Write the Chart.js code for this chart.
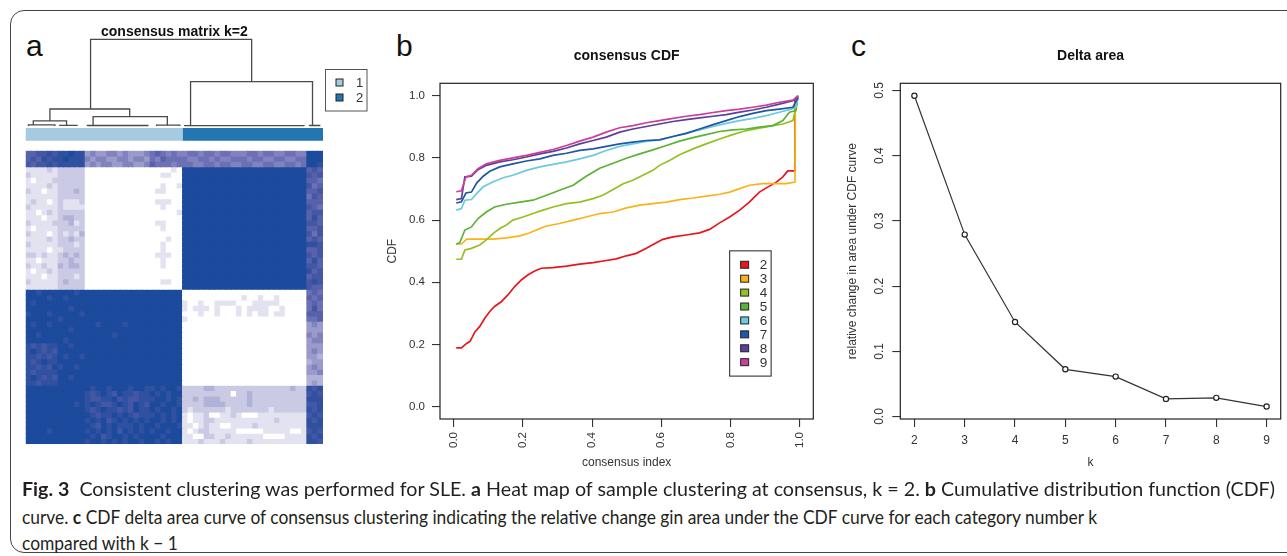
<!DOCTYPE html>
<html>
<head>
<meta charset="utf-8">
<script src="https://cdn.jsdelivr.net/npm/chart.js@4.4.1/dist/chart.umd.min.js"></script>
<style>
html, body { margin: 0; padding: 0; background: #fff; width: 1287px; height: 556px; overflow: hidden; position: relative; }
.frame { position: absolute; left: 10px; top: 10px; width: 1320px; height: 543px; border: 1.3px solid #444; border-radius: 14px; box-sizing: border-box; }
canvas { position: absolute; }
.tag { position: absolute; font-family: "Liberation Sans", Arial, sans-serif; font-size: 30px; line-height: 30px; color: #111; }
.cap { position: absolute; left: 22px; font-family: Lato, "Open Sans", "Liberation Sans", sans-serif; font-size: 19px; line-height: 22px; color: #231f20; white-space: nowrap; transform-origin: 0 50%; }
.cap b { font-weight: 700; }
</style>
</head>
<body>
<div class="frame"></div>

<div class="tag" style="left:26px;top:31px">a</div>
<div class="tag" style="left:396px;top:31px">b</div>
<div class="tag" style="left:851px;top:31px">c</div>

<canvas id="dendro" width="380" height="135" style="left:0;top:10px"></canvas>
<canvas id="heat" width="340" height="305" style="left:0;top:145px"></canvas>
<canvas id="cdf" width="440" height="440" style="left:380px;top:40px"></canvas>
<canvas id="delta" width="467" height="440" style="left:820px;top:40px"></canvas>

<div class="cap" id="cap1" style="top:478px"><b>Fig. 3</b>&nbsp; Consistent clustering was performed for SLE. <b>a</b> Heat map of sample clustering at consensus, k = 2. <b>b</b> Cumulative distribution function (CDF)</div>
<div class="cap" id="cap2" style="top:506px">curve. <b>c</b> CDF delta area curve of consensus clustering indicating the relative change gin area under the CDF curve for each category number k</div>
<div class="cap" id="cap3" style="top:532px">compared with k − 1</div>

<script>
// ---------- panel a: consensus matrix (rows as drawn, top to bottom; 0 = white .. a = darkest) ----------
const heatRows = [
  "778898 99a99 454455454445 676565 56656656655566566556655 aaa",
  "787989 9a999 545544554554 657666 65566565566656655665566 aaa",
  "878898 99999 454554455445 766656 66556656655665566556656 aa9",
  "111121 22222 000000000000 000010 aaaaaaaaaaaaaaaaaaaaaaa 787",
  "211111 22222 000000000000 001100 aaaaaaaaaaaaaaaaaaaaaaa 878",
  "101112 22222 000000000000 000000 aaaaaaaaaaaaaaaaaaaaaaa 776",
  "111121 22222 000000000000 001001 aaaaaaaaaaaaaaaaaaaaaaa 867",
  "211011 22232 000000000000 011000 aaaaaaaaaaaaaaaaaaaaaaa 778",
  "111111 22222 000000000000 000000 aaaaaaaaaaaaaaaaaaaaaaa 687",
  "121101 21112 000000000000 011100 aaaaaaaaaaaaaaaaaaaaaaa 777",
  "211111 21111 000000000000 001000 aaaaaaaaaaaaaaaaaaaaaaa 876",
  "110121 22222 000000000000 000001 aaaaaaaaaaaaaaaaaaaaaaa 788",
  "111011 23322 000000000000 000000 aaaaaaaaaaaaaaaaaaaaaaa 797",
  "211112 22312 000000000000 011000 aaaaaaaaaaaaaaaaaaaaaaa 887",
  "101111 22222 000000000000 001000 aaaaaaaaaaaaaaaaaaaaaaa 778",
  "211101 21213 000000000000 000000 aaaaaaaaaaaaaaaaaaaaaaa 868",
  "111121 22322 000000000000 000100 aaaaaaaaaaaaaaaaaaaaaaa 787",
  "211111 22212 000000000000 001000 aaaaaaaaaaaaaaaaaaaaaaa 998",
  "111101 12222 000000000000 001000 aaaaaaaaaaaaaaaaaaaaaaa 778",
  "221211 23232 000000000000 011100 aaaaaaaaaaaaaaaaaaaaaaa 878",
  "110111 22322 000000000000 001000 aaaaaaaaaaaaaaaaaaaaaaa 797",
  "211211 32332 000000000000 001000 aaaaaaaaaaaaaaaaaaaaaaa 887",
  "101121 22222 000000000000 000000 aaaaaaaaaaaaaaaaaaaaaaa 978",
  "111011 22212 000000000000 000000 aaaaaaaaaaaaaaaaaaaaaaa 788",
  "211111 23222 000000000000 001100 aaaaaaaaaaaaaaaaaaaaaaa 898",
  "111111 22222 000000000000 000000 aaaaaaaaaaaaaaaaaaaaaaa 877",
  "aa9aaa aaa9a aaaaaaaaaaaa aaaaaa 00000000000000000000000 676",
  "aaaa9a a9aaa aaaaaaaaaaaa aaaaaa 00000000000100100100000 767",
  "a9aaaa aaaaa aaaaaaaaaaaa aaaaaa 10010011110001111100000 676",
  "aaaaaa aa9aa aaaaaaaaaaaa aaaaaa 10111010001011110010000 686",
  "9aaa9a aaaa9 aaaaaaaaaaaa aaaaaa 00010010001010110110000 777",
  "aaaaaa 9aaaa aaaaaaaaaaaa aaaaaa 10000000000000000000000 667",
  "a9aa9a aaaaa aa9aaaa9aaaa aaaaaa 00000000000000000000000 454",
  "aaaaaa aa9aa aaaaaaaaaaaa aaaaaa 00000000000000000000000 444",
  "aa9aaa aaaaa aaaaa9aaaaaa aaaaaa 00000000000000000000000 545",
  "aaaaaa a9aaa aaaaaaaaaaaa aaaaaa 00000000000000000000000 455",
  "989899 aa9aa aaaaaaaaaaaa aaaaaa 00000000000000000000000 444",
  "9a9898 aaaaa aaaaaaaaaaaa aaaaaa 00000000000000000000000 454",
  "998989 a9aa9 aaaaaaaaaaaa aaaaaa 00000000000000000000000 443",
  "989a99 aaaaa aaaaaaaaaaaa aaaaaa 00000000000000000000000 344",
  "99898a 9aa9a aaaaaaaaaaaa aaaaaa 00000000000000000000000 454",
  "989999 aaaaa aaaaaaaaaaaa aaaaaa 00000000000000000000000 445",
  "9a9898 aa9aa aaaaaaaaaaaa aaaaaa 00000000000000000000000 333",
  "998999 aaaaa aaaaaaaaaaaa aaaaaa 00000000000000000000000 343",
  "aaaaaa aaaaa a9aa9aaa9aa9 9a9aa9 22223322222222222222322 989",
  "aaaaaa aaaaa 989a98a99899 a9a9aa 22222222202232222222222 898",
  "aaaaaa aaaaa 98899a898899 9aa9a9 22323332222232222222222 999",
  "aaaaaa aaa9a 9a9889a98a98 aa9aa9 22223333222232222222222 889",
  "aaaaaa aaaaa 989a99898a99 a9aa9a 21222222122222221222222 989",
  "aaaaaa aaaaa a9899a9a9899 9a9a9a 10112001121000111111111 898",
  "aaaaaa aaaaa 9a9a89a9a9a9 aa9a9a 10112211111111111211111 989",
  "aaaaaa aaaaa a98a9a999a9a a9aaa9 11012110011112111111111 999",
  "aaaa9a aaaaa 9a9a9a8a9a9a 9aa9aa 10122111110000011111001 898",
  "aaaaaa aaaaa a9a89aa9a9aa aa9aaa 11002211211111100001111 989",
  "aaaaaa aaaaa 9aa9a9a9aa9a a9a9aa 11121112111121111111111 998"
];
const heatPalette = ["#ffffff", "#e2e2f1", "#cacae4", "#b2b2d8", "#9a9acb", "#8282bf",
                     "#6c70b5", "#5762ab", "#4457a5", "#3050a0", "#1c4a9c"];

// dendrogram: [x of left child, x of right child, merge height, left child height, right child height]
const dendroNodes = [
  [12.0, 41.8, 1.0, 0.196, 0.511],
  [4.48, 19.24, 0.196, 0.058, 0.107],
  [30.5, 53.06, 0.511, 0.004, 0.006],
  [1.40, 7.56, 0.058, 0.012, 0.008],
  [12.47, 26.2, 0.107, 0.006, 0.010],
  [0.5, 5.4, 0.012, 0, 0],
  [6.3, 9.5, 0.008, 0, 0],
  [11.4, 22.6, 0.006, 0, 0],
  [24.2, 28.5, 0.010, 0, 0],
  [29.4, 51.5, 0.004, 0, 0],
  [52.5, 54.4, 0.006, 0, 0]
];
const clusterNames = ["1", "2"];
const clusterSizes = [29, 26];
const clusterColors = ["#a6cbe0", "#2276b1"];

// ---------- panel b: consensus CDF ----------
const cdfK = [2, 3, 4, 5, 6, 7, 8, 9];
const cdfColors = ["#e8161c", "#f7b41a", "#94c11f", "#5bb236", "#6bcadb", "#1f57a6", "#5b3f9a", "#cc3f98"];
const cdf2 = [[0.007,0.189],[0.022,0.189],[0.037,0.203],[0.047,0.21],[0.061,0.24],[0.075,0.258],[0.09,0.285],[0.104,0.306],[0.118,0.322],[0.138,0.338],[0.157,0.36],[0.176,0.386],[0.196,0.408],[0.215,0.424],[0.234,0.436],[0.253,0.445],[0.287,0.447],[0.326,0.452],[0.364,0.458],[0.403,0.463],[0.441,0.47],[0.47,0.475],[0.499,0.485],[0.528,0.493],[0.557,0.509],[0.586,0.527],[0.605,0.538],[0.634,0.546],[0.672,0.552],[0.711,0.559],[0.74,0.57],[0.769,0.591],[0.798,0.61],[0.827,0.632],[0.855,0.658],[0.884,0.69],[0.908,0.706],[0.933,0.722],[0.952,0.739],[0.966,0.758],[0.981,0.758],[0.987,0.758],[0.987,0.99],[0.995,1.0]];
const cdf3 = [[0.007,0.523],[0.022,0.523],[0.037,0.539],[0.075,0.539],[0.114,0.539],[0.152,0.543],[0.191,0.549],[0.22,0.559],[0.249,0.573],[0.268,0.581],[0.306,0.589],[0.345,0.6],[0.383,0.61],[0.422,0.621],[0.461,0.626],[0.499,0.639],[0.538,0.648],[0.576,0.653],[0.615,0.658],[0.653,0.666],[0.692,0.671],[0.73,0.677],[0.769,0.683],[0.798,0.69],[0.827,0.701],[0.855,0.712],[0.894,0.717],[0.933,0.717],[0.961,0.717],[0.987,0.722],[0.988,0.963],[0.995,1.0]];
const cdf4 = [[0.007,0.474],[0.022,0.474],[0.032,0.504],[0.051,0.509],[0.075,0.52],[0.094,0.536],[0.114,0.557],[0.133,0.573],[0.152,0.584],[0.171,0.6],[0.2,0.61],[0.229,0.621],[0.258,0.632],[0.287,0.642],[0.326,0.653],[0.364,0.658],[0.403,0.669],[0.431,0.68],[0.461,0.698],[0.49,0.717],[0.518,0.728],[0.547,0.744],[0.576,0.76],[0.595,0.776],[0.624,0.792],[0.653,0.81],[0.692,0.829],[0.73,0.845],[0.769,0.861],[0.807,0.875],[0.846,0.888],[0.884,0.896],[0.923,0.904],[0.952,0.909],[0.981,0.92],[0.99,0.963],[0.995,0.995]];
const cdf5 = [[0.007,0.523],[0.017,0.527],[0.032,0.568],[0.051,0.578],[0.07,0.605],[0.094,0.626],[0.118,0.642],[0.152,0.651],[0.191,0.658],[0.229,0.664],[0.268,0.68],[0.306,0.696],[0.345,0.712],[0.383,0.741],[0.422,0.767],[0.461,0.783],[0.499,0.799],[0.538,0.813],[0.576,0.826],[0.615,0.84],[0.653,0.854],[0.692,0.865],[0.73,0.875],[0.769,0.885],[0.807,0.89],[0.846,0.893],[0.884,0.899],[0.923,0.904],[0.952,0.92],[0.971,0.947],[0.99,0.952],[0.995,0.995]];
const cdf6 = [[0.007,0.632],[0.022,0.637],[0.032,0.664],[0.051,0.666],[0.066,0.685],[0.085,0.707],[0.114,0.723],[0.143,0.736],[0.171,0.744],[0.21,0.76],[0.249,0.771],[0.287,0.779],[0.326,0.787],[0.364,0.797],[0.403,0.808],[0.441,0.824],[0.48,0.837],[0.518,0.845],[0.557,0.853],[0.595,0.858],[0.634,0.869],[0.672,0.879],[0.711,0.89],[0.75,0.901],[0.788,0.911],[0.827,0.92],[0.865,0.927],[0.904,0.936],[0.942,0.947],[0.976,0.957],[0.99,0.963],[0.996,0.995]];
const cdf7 = [[0.007,0.655],[0.022,0.659],[0.035,0.687],[0.051,0.69],[0.066,0.719],[0.085,0.741],[0.104,0.757],[0.133,0.771],[0.171,0.781],[0.21,0.79],[0.249,0.797],[0.287,0.808],[0.326,0.815],[0.364,0.824],[0.403,0.829],[0.441,0.837],[0.48,0.845],[0.518,0.851],[0.557,0.856],[0.595,0.858],[0.634,0.869],[0.672,0.879],[0.711,0.893],[0.75,0.907],[0.788,0.92],[0.827,0.933],[0.865,0.943],[0.904,0.952],[0.942,0.957],[0.981,0.963],[0.996,0.995]];
const cdf8 = [[0.007,0.666],[0.022,0.669],[0.032,0.739],[0.051,0.741],[0.07,0.762],[0.094,0.776],[0.133,0.787],[0.171,0.794],[0.21,0.803],[0.249,0.813],[0.287,0.821],[0.326,0.832],[0.364,0.845],[0.403,0.856],[0.441,0.867],[0.48,0.883],[0.518,0.893],[0.557,0.901],[0.595,0.909],[0.634,0.917],[0.672,0.923],[0.711,0.929],[0.75,0.934],[0.788,0.939],[0.827,0.947],[0.865,0.954],[0.904,0.963],[0.942,0.973],[0.981,0.984],[0.996,0.995]];
const cdf9 = [[0.007,0.691],[0.022,0.694],[0.035,0.739],[0.051,0.744],[0.07,0.765],[0.094,0.781],[0.133,0.792],[0.171,0.8],[0.21,0.808],[0.249,0.818],[0.287,0.827],[0.326,0.84],[0.364,0.854],[0.403,0.867],[0.441,0.883],[0.48,0.897],[0.518,0.904],[0.557,0.913],[0.595,0.92],[0.634,0.927],[0.672,0.934],[0.711,0.939],[0.75,0.946],[0.788,0.952],[0.827,0.957],[0.865,0.963],[0.904,0.97],[0.942,0.979],[0.981,0.986],[0.997,1.0]];
const cdfTicks = [0, 0.2, 0.4, 0.6, 0.8, 1.0];

// ---------- panel c: delta area ----------
const deltaK = [2, 3, 4, 5, 6, 7, 8, 9];
const deltaArea = [0.492, 0.279, 0.145, 0.0724, 0.0612, 0.027, 0.0286, 0.0153];
const deltaYTicks = [0, 0.1, 0.2, 0.3, 0.4, 0.5];

Chart.defaults.font.family = '"Liberation Sans", Arial, sans-serif';
Chart.defaults.color = "#222";
Chart.defaults.animation = false;
Chart.defaults.events = [];
Chart.defaults.plugins.tooltip.enabled = false;
Chart.defaults.plugins.legend.display = false;

// box round the plot region, like R's box()
const boxPlugin = {
  id: "rbox",
  afterDatasetsDraw(chart) {
    const a = chart.chartArea, c = chart.ctx;
    c.save();
    c.strokeStyle = "#222";
    c.lineWidth = 1.2;
    c.strokeRect(a.left, a.top, a.right - a.left, a.bottom - a.top);
    c.restore();
  }
};

function rGrid() {
  return { drawOnChartArea: false, drawTicks: true, tickLength: 8, color: "#333", lineWidth: 1.1 };
}

// ===== a: heat map =====
const cells = heatRows.map(s => s.replace(/ /g, ""));
const nCols = cells[0].length;
const colIds = Array.from({ length: nCols }, (_, i) => String(i + 1));

new Chart(document.getElementById("heat"), {
  type: "bar",
  data: {
    labels: colIds,
    datasets: cells.map((row, r) => ({
      data: colIds.map(() => [r, r + 1]),
      backgroundColor: row.split("").map(ch => heatPalette[parseInt(ch, 16)]),
      borderWidth: 0,
      barPercentage: 1,
      categoryPercentage: 1,
      grouped: false,
      inflateAmount: 0.45
    }))
  },
  options: {
    responsive: false,
    layout: { padding: { left: 25.7, right: 17, top: 5.7, bottom: 6 } },
    scales: {
      x: { display: false },
      y: { display: false, type: "linear", min: 0, max: cells.length, reverse: true }
    }
  }
});

// dendrogram + cluster colour bar + legend
const dendroSets = dendroNodes.map(n => ({
  data: [{ x: n[0], y: n[3] }, { x: n[0], y: n[2] }, { x: n[1], y: n[2] }, { x: n[1], y: n[4] }],
  showLine: true, borderColor: "#4a4a4a", borderWidth: 1.3, pointRadius: 0, clip: false
}));
let start = 0;
clusterSizes.forEach((n, i) => {
  dendroSets.push({
    data: [{ x: start, y: -0.097 }, { x: start + n, y: -0.097 }],
    showLine: true, borderColor: clusterColors[i], borderWidth: 12.7, borderCapStyle: "butt",
    pointRadius: 0, clip: false
  });
  start += n;
});

const clusterLegend = {
  id: "clusterLegend",
  afterDraw(chart) {
    const c = chart.ctx, a = chart.chartArea;
    const x0 = a.right + 2, y0 = a.top + 29.7;
    c.save();
    c.strokeStyle = "#555";
    c.lineWidth = 1;
    c.strokeRect(x0 + 0.5, y0 + 0.5, 41.5, 41.5);
    c.font = '13px "Liberation Sans", Arial, sans-serif';
    c.textBaseline = "middle";
    clusterNames.forEach((name, i) => {
      const cy = y0 + 13.5 + i * 15;
      c.fillStyle = clusterColors[i];
      c.fillRect(x0 + 11, cy - 3.5, 7, 7);
      c.strokeStyle = "#222";
      c.strokeRect(x0 + 11, cy - 3.5, 7, 7);
      c.fillStyle = "#333";
      c.fillText(name, x0 + 31, cy + 0.5);
    });
    c.restore();
  }
};

new Chart(document.getElementById("dendro"), {
  type: "scatter",
  data: { datasets: dendroSets },
  options: {
    responsive: false,
    layout: { padding: { left: 25.7, right: 57, top: 0, bottom: 4 } },
    plugins: {
      title: {
        display: true, text: "consensus matrix k=2", fullSize: false, color: "#111",
        font: { size: 14, weight: "bold", lineHeight: 1 }, padding: { top: 15, bottom: 0.3 }
      }
    },
    scales: {
      x: { type: "linear", min: 0, max: nCols, display: false },
      y: { type: "linear", min: -0.173, max: 1.0, display: false }
    }
  },
  plugins: [clusterLegend]
});

// ===== b: consensus CDF =====
const cdfSeries = [cdf2, cdf3, cdf4, cdf5, cdf6, cdf7, cdf8, cdf9];

const cdfLegend = {
  id: "cdfLegend",
  afterDraw(chart) {
    const { ctx: c, scales: { x, y } } = chart;
    const left = x.getPixelForValue(0.798), right = x.getPixelForValue(0.918);
    const top = y.getPixelForValue(0.501), bottom = y.getPixelForValue(0.098);
    c.save();
    c.fillStyle = "#fff";
    c.fillRect(left, top, right - left, bottom - top);
    c.strokeStyle = "#333";
    c.lineWidth = 1.1;
    c.strokeRect(left, top, right - left, bottom - top);
    const step = (bottom - top) / (cdfK.length + 1);
    c.font = '13.5px "Liberation Sans", Arial, sans-serif';
    c.textBaseline = "middle";
    cdfK.forEach((k, i) => {
      const cy = top + step * (i + 1);
      c.fillStyle = cdfColors[i];
      c.fillRect(left + 11, cy - 3.5, 8, 7);
      c.strokeStyle = "#222";
      c.lineWidth = 1;
      c.strokeRect(left + 11, cy - 3.5, 8, 7);
      c.fillStyle = "#333";
      c.fillText(String(k), left + 30, cy + 1);
    });
    c.restore();
  }
};

new Chart(document.getElementById("cdf"), {
  type: "scatter",
  data: {
    datasets: cdfSeries.map((pts, i) => ({
      label: String(cdfK[i]),
      data: pts.map(p => ({ x: p[0], y: p[1] })),
      showLine: true,
      borderColor: cdfColors[i],
      backgroundColor: cdfColors[i],
      borderWidth: 1.7,
      pointRadius: 0,
      order: cdfK.length - i
    }))
  },
  options: {
    responsive: false,
    layout: { padding: { left: 0, right: 6.7, top: 0, bottom: 0 } },
    plugins: {
      title: {
        display: true, text: "consensus CDF", fullSize: false, color: "#111",
        font: { size: 14, weight: "bold", lineHeight: 1 }, padding: { top: 9, bottom: 20.3 }
      }
    },
    scales: {
      x: {
        type: "linear", min: -0.04, max: 1.04,
        afterBuildTicks: s => { s.ticks = cdfTicks.map(v => ({ value: v })); },
        afterFit: s => { s.height = 61; },
        ticks: { minRotation: 90, maxRotation: 90, padding: 5, font: { size: 11.5 }, color: "#333",
                 callback: v => Number(v).toFixed(1) },
        grid: rGrid(),
        border: { display: false },
        title: { display: true, text: "consensus index", color: "#333", font: { size: 12 }, padding: { top: 0, bottom: 9.8 } }
      },
      y: {
        type: "linear", min: -0.04, max: 1.04,
        afterBuildTicks: s => { s.ticks = cdfTicks.map(v => ({ value: v })); },
        afterFit: s => { s.width = 60; },
        ticks: { padding: 7, font: { size: 11.5 }, color: "#333", callback: v => Number(v).toFixed(1) },
        grid: rGrid(),
        border: { display: false },
        title: { display: true, text: "CDF", color: "#333", font: { size: 12 }, padding: { top: 5.1, bottom: 0 } }
      }
    }
  },
  plugins: [boxPlugin, cdfLegend]
});

// ===== c: delta area =====
const rotYTicks = {
  id: "rotYTicks",
  afterDraw(chart) {
    const s = chart.scales.y, c = chart.ctx;
    c.save();
    c.font = '12px "Liberation Sans", Arial, sans-serif';
    c.fillStyle = "#333";
    c.textAlign = "center";
    c.textBaseline = "middle";
    s.ticks.forEach(t => {
      c.save();
      c.translate(s.right - 20.3, s.getPixelForValue(t.value));
      c.rotate(-Math.PI / 2);
      c.fillText(Number(t.value).toFixed(1), 0, 0);
      c.restore();
    });
    c.restore();
  }
};

new Chart(document.getElementById("delta"), {
  type: "scatter",
  data: {
    datasets: [{
      data: deltaK.map((k, i) => ({ x: k, y: deltaArea[i] })),
      showLine: true,
      borderColor: "#333",
      borderWidth: 1.2,
      pointRadius: 2.6,
      pointBorderWidth: 1.2,
      pointBorderColor: "#222",
      pointBackgroundColor: "#fff"
    }]
  },
  options: {
    responsive: false,
    layout: { padding: { left: 0, right: 6.3, top: 0, bottom: 0 } },
    plugins: {
      title: {
        display: true, text: "Delta area", fullSize: false, color: "#111",
        font: { size: 14, weight: "bold", lineHeight: 1 }, padding: { top: 9, bottom: 20.3 }
      }
    },
    scales: {
      x: {
        type: "linear", min: 1.72, max: 9.28,
        afterBuildTicks: s => { s.ticks = deltaK.map(v => ({ value: v })); },
        afterFit: s => { s.height = 61; },
        ticks: { minRotation: 0, maxRotation: 0, padding: 6, font: { size: 12 }, color: "#333" },
        grid: rGrid(),
        border: { display: false },
        title: { display: true, text: "k", color: "#333", font: { size: 12 }, padding: { top: 0, bottom: 10.1 } }
      },
      y: {
        type: "linear", min: -0.0038, max: 0.511,
        afterBuildTicks: s => { s.ticks = deltaYTicks.map(v => ({ value: v })); },
        afterFit: s => { s.width = 80.3; },
        ticks: { display: false },
        grid: rGrid(),
        border: { display: false },
        title: { display: true, text: "relative change in area under CDF curve", color: "#333", font: { size: 12 }, padding: { top: 25.1, bottom: 0 } }
      }
    }
  },
  plugins: [boxPlugin, rotYTicks]
});

// caption lines are squeezed to the widths they take in the figure;
// the short last line simply reuses line 2's squeeze
const capWidths = { cap1: 1253, cap2: 1075 };
function fitCaption() {
  let k2 = 1;
  Object.keys(capWidths).forEach(id => {
    const el = document.getElementById(id);
    el.style.transform = "none";
    const k = capWidths[id] / el.getBoundingClientRect().width;
    el.style.transform = "scaleX(" + k + ")";
    if (id === "cap2") k2 = k;
  });
  document.getElementById("cap3").style.transform = "scaleX(" + k2 + ")";
}
fitCaption();
if (document.fonts && document.fonts.ready) document.fonts.ready.then(fitCaption);
</script>
</body>
</html>
